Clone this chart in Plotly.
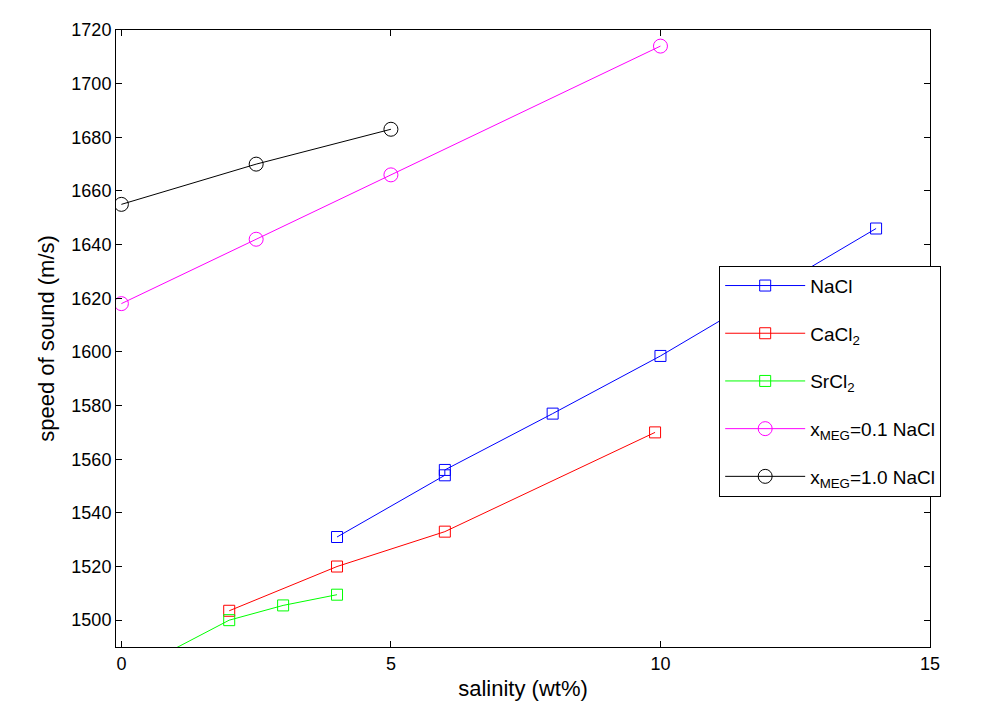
import plotly.graph_objects as go

# salinity (wt%) and speed of sound (m/s)
nacl_x = [4, 6, 6, 8, 10, 14]
nacl_y = [1531, 1554, 1556, 1577, 1598.5, 1646]
cacl2_x = [2, 4, 6, 9.9]
cacl2_y = [1503.5, 1520, 1533, 1570]
srcl2_x = [0, 2, 3, 4]
srcl2_y = [1479, 1500, 1505.5, 1509.5]
meg01_x = [0, 2.5, 5, 10]
meg01_y = [1618, 1642, 1666, 1714]
meg10_x = [0, 2.5, 5]
meg10_y = [1655, 1670, 1683]

series = [
    ("NaCl", nacl_x, nacl_y, "#0000ff", "square-open"),
    ("CaCl<sub>2</sub>", cacl2_x, cacl2_y, "#ff0000", "square-open"),
    ("SrCl<sub>2</sub>", srcl2_x, srcl2_y, "#00ff00", "square-open"),
    ("x<sub>MEG</sub>=0.1 NaCl", meg01_x, meg01_y, "#ff00ff", "circle-open"),
    ("x<sub>MEG</sub>=1.0 NaCl", meg10_x, meg10_y, "#000000", "circle-open"),
]

fig = go.Figure()
for i, (name, xs, ys, col, sym) in enumerate(series):
    size = 11 if sym == "square-open" else 14
    fig.add_trace(go.Scatter(x=xs, y=ys, name=name, mode="lines+markers", legendgroup=str(i),
                             line=dict(color=col, width=1),
                             marker=dict(symbol=sym, size=size, color=col, line=dict(width=1, color=col))))

axis_style = dict(showgrid=False, zeroline=False, showline=True, linecolor="black", linewidth=1,
                  mirror="ticks", ticks="inside", ticklen=6, tickcolor="black",
                  tickfont=dict(size=18, color="black"))

fig.update_layout(
    width=984, height=713,
    plot_bgcolor="white", paper_bgcolor="white",
    font=dict(family="Liberation Sans, Arial, sans-serif", size=18, color="black"),
    margin=dict(l=108, r=62, t=15, b=74),
    xaxis=dict(range=[-0.1, 15], tickvals=[0, 5, 10, 15], title=dict(text="salinity (wt%)", standoff=8), **axis_style),
    yaxis=dict(range=[1490, 1720], dtick=20, title=dict(text="speed of sound (m/s)", standoff=10), **axis_style),
    legend=dict(x=0.741, y=0.618, xanchor="left", yanchor="top", bgcolor="white",
                bordercolor="black", borderwidth=1, font=dict(size=19), tracegroupgap=20,
                itemwidth=80),
)

fig.write_html("out.html")
